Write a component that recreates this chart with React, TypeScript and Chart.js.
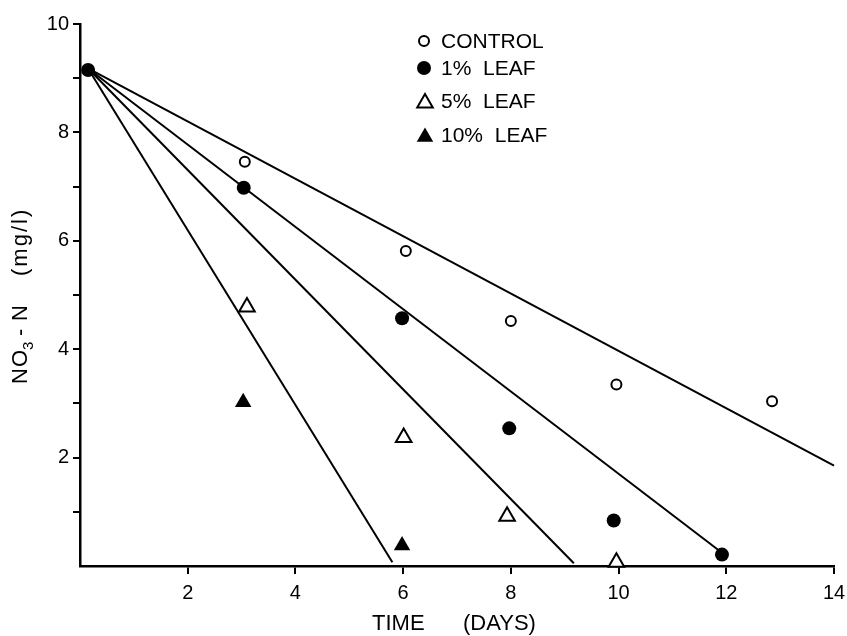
import React, { useEffect, useRef } from "react";
import { Chart, registerables } from "chart.js";

Chart.register(...registerables);

// ---- data ----
const controlDays = [3.06, 6.05, 8.0, 9.96, 12.85];
const controlNO3 = [7.46, 5.81, 4.52, 3.35, 3.04];

const leaf1Days = [0.15, 3.04, 5.98, 7.97, 9.91, 11.92];
const leaf1NO3 = [9.15, 6.98, 4.57, 2.54, 0.84, 0.21];

const leaf5Days = [3.1, 6.01, 7.93, 9.96];
const leaf5NO3 = [4.78, 2.37, 0.92, 0.07];

const leaf10Days = [3.03, 5.98];
const leaf10NO3 = [3.02, 0.38];

// fitted regression lines (end points)
const controlFitDays = [0.15, 14.0];
const controlFitNO3 = [9.18, 1.85];
const leaf1FitDays = [0.15, 11.95];
const leaf1FitNO3 = [9.18, 0.22];
const leaf5FitDays = [0.15, 9.17];
const leaf5FitNO3 = [9.18, 0.05];
const leaf10FitDays = [0.15, 5.8];
const leaf10FitNO3 = [9.18, 0.07];

const legendLabels = ["CONTROL", "1%  LEAF", "5%  LEAF", "10%  LEAF"];
const xTitleParts = ["TIME", "(DAYS)"];

const FONT = '"Liberation Sans", Arial, sans-serif';

const pts = (xs: number[], ys: number[]) => xs.map((x, i) => ({ x, y: ys[i] }));

const annotations = {
  id: "annotations",
  afterDraw(chart: any) {
    const ctx = chart.ctx as CanvasRenderingContext2D;
    ctx.save();
    ctx.fillStyle = "#000";
    ctx.strokeStyle = "#000";

    // legend
    const lx = 424;
    const rows = [41, 68, 101, 135];
    ctx.lineWidth = 2;
    ctx.beginPath();
    ctx.arc(lx, rows[0], 5, 0, Math.PI * 2);
    ctx.stroke();
    ctx.beginPath();
    ctx.arc(lx, rows[1], 7, 0, Math.PI * 2);
    ctx.fill();
    const tri = (cx: number, cy: number, r: number) => {
      ctx.beginPath();
      for (let k = 0; k < 3; k++) {
        const a = (k * 2 * Math.PI) / 3;
        const px = cx + Math.sin(a) * r;
        const py = cy - Math.cos(a) * r;
        if (k === 0) ctx.moveTo(px, py);
        else ctx.lineTo(px, py);
      }
      ctx.closePath();
    };
    tri(lx + 1, rows[2] + 2, 9);
    ctx.stroke();
    tri(lx + 1, rows[3] + 2, 9.5);
    ctx.fill();

    ctx.font = `21px ${FONT}`;
    ctx.textAlign = "left";
    ctx.textBaseline = "middle";
    legendLabels.forEach((t, i) => ctx.fillText(t, 441, rows[i] + 1));

    // x-axis title
    ctx.font = `22px ${FONT}`;
    ctx.textAlign = "left";
    ctx.fillText(xTitleParts[0], 372, 624);
    ctx.fillText(xTitleParts[1], 463, 624);

    // y-axis title, rotated with subscript
    ctx.save();
    ctx.translate(21, 296);
    ctx.rotate(-Math.PI / 2);
    ctx.textAlign = "left";
    ctx.textBaseline = "middle";
    ctx.font = `22px ${FONT}`;
    (ctx as any).letterSpacing = "1px";
    ctx.fillText("NO", -88, 0);
    ctx.font = `15px ${FONT}`;
    ctx.fillText("3", -54, 8);
    ctx.font = `22px ${FONT}`;
    ctx.fillText("-", -40, 0);
    (ctx as any).letterSpacing = "2px";
    ctx.fillText("N", -25, 0);
    ctx.fillText("(mg/l)", 20, 0);
    ctx.restore();

    ctx.restore();
  },
};

export default function App() {
  const ref = useRef<HTMLCanvasElement | null>(null);

  useEffect(() => {
    document.body.style.margin = "0";
    if (!ref.current) return;
    const tickColor = (c: any) => (c.tick && c.tick.value === 0 ? "rgba(0,0,0,0)" : "#000");
    const lineDs = (xs: number[], ys: number[]) => ({
      type: "line" as const,
      data: pts(xs, ys),
      borderColor: "#000",
      borderWidth: 2,
      pointRadius: 0,
      fill: false,
      showLine: true,
      clip: false as any,
    });
    const chart = new Chart(ref.current, {
      type: "scatter",
      data: {
        datasets: [
          lineDs(controlFitDays, controlFitNO3),
          lineDs(leaf1FitDays, leaf1FitNO3),
          lineDs(leaf5FitDays, leaf5FitNO3),
          lineDs(leaf10FitDays, leaf10FitNO3),
          {
            label: "CONTROL",
            data: pts(controlDays, controlNO3),
            pointStyle: "circle",
            pointRadius: 5,
            borderWidth: 2,
            borderColor: "#000",
            backgroundColor: "#fff",
            clip: false as any,
          },
          {
            label: "5% LEAF",
            data: pts(leaf5Days, leaf5NO3),
            pointStyle: "triangle",
            pointRadius: 9,
            borderWidth: 2,
            borderColor: "#000",
            backgroundColor: "#fff",
            clip: false as any,
          },
          {
            label: "10% LEAF",
            data: pts(leaf10Days, leaf10NO3),
            pointStyle: "triangle",
            pointRadius: 9.5,
            borderWidth: 0,
            borderColor: "#000",
            backgroundColor: "#000",
            clip: false as any,
          },
          {
            label: "1% LEAF",
            data: pts(leaf1Days, leaf1NO3),
            pointStyle: "circle",
            pointRadius: 7,
            borderWidth: 0,
            borderColor: "#000",
            backgroundColor: "#000",
            clip: false as any,
          },
        ],
      },
      options: {
        animation: false,
        responsive: false,
        layout: { padding: { left: 0, top: 24, right: 13, bottom: 0 } },
        plugins: { legend: { display: false }, tooltip: { enabled: false } },
        scales: {
          x: {
            type: "linear",
            min: 0,
            max: 14,
            afterFit: (s: any) => {
              s.height = 70;
              s.paddingLeft = 0;
              s.paddingRight = 0;
            },
            border: { display: true, color: "#000", width: 2.5 },
            grid: {
              display: true,
              drawOnChartArea: false,
              drawTicks: true,
              tickLength: 8,
              color: tickColor,
              lineWidth: 2,
            },
            ticks: {
              stepSize: 2,
              color: "#000",
              padding: 7,
              maxRotation: 0,
              font: { family: FONT, size: 20 },
              callback: (v: any) => (Number(v) === 0 ? "" : String(v)),
            },
          },
          y: {
            type: "linear",
            min: 0,
            max: 10,
            afterFit: (s: any) => {
              s.width = 80;
              s.paddingTop = 0;
              s.paddingBottom = 0;
            },
            border: { display: true, color: "#000", width: 2.5 },
            grid: {
              display: true,
              drawOnChartArea: false,
              drawTicks: true,
              tickLength: 7,
              color: tickColor,
              lineWidth: 2,
            },
            ticks: {
              stepSize: 1,
              color: "#000",
              padding: 4,
              font: { family: FONT, size: 20 },
              callback: (v: any) => {
                const n = Number(v);
                return n !== 0 && n % 2 === 0 ? String(n) : "";
              },
            },
          },
        },
      },
      plugins: [annotations],
    });
    return () => chart.destroy();
  }, []);

  return (
    <div style={{ width: 847, height: 636, background: "#fff" }}>
      <canvas ref={ref} width={847} height={636} style={{ display: "block" }} />
    </div>
  );
}
